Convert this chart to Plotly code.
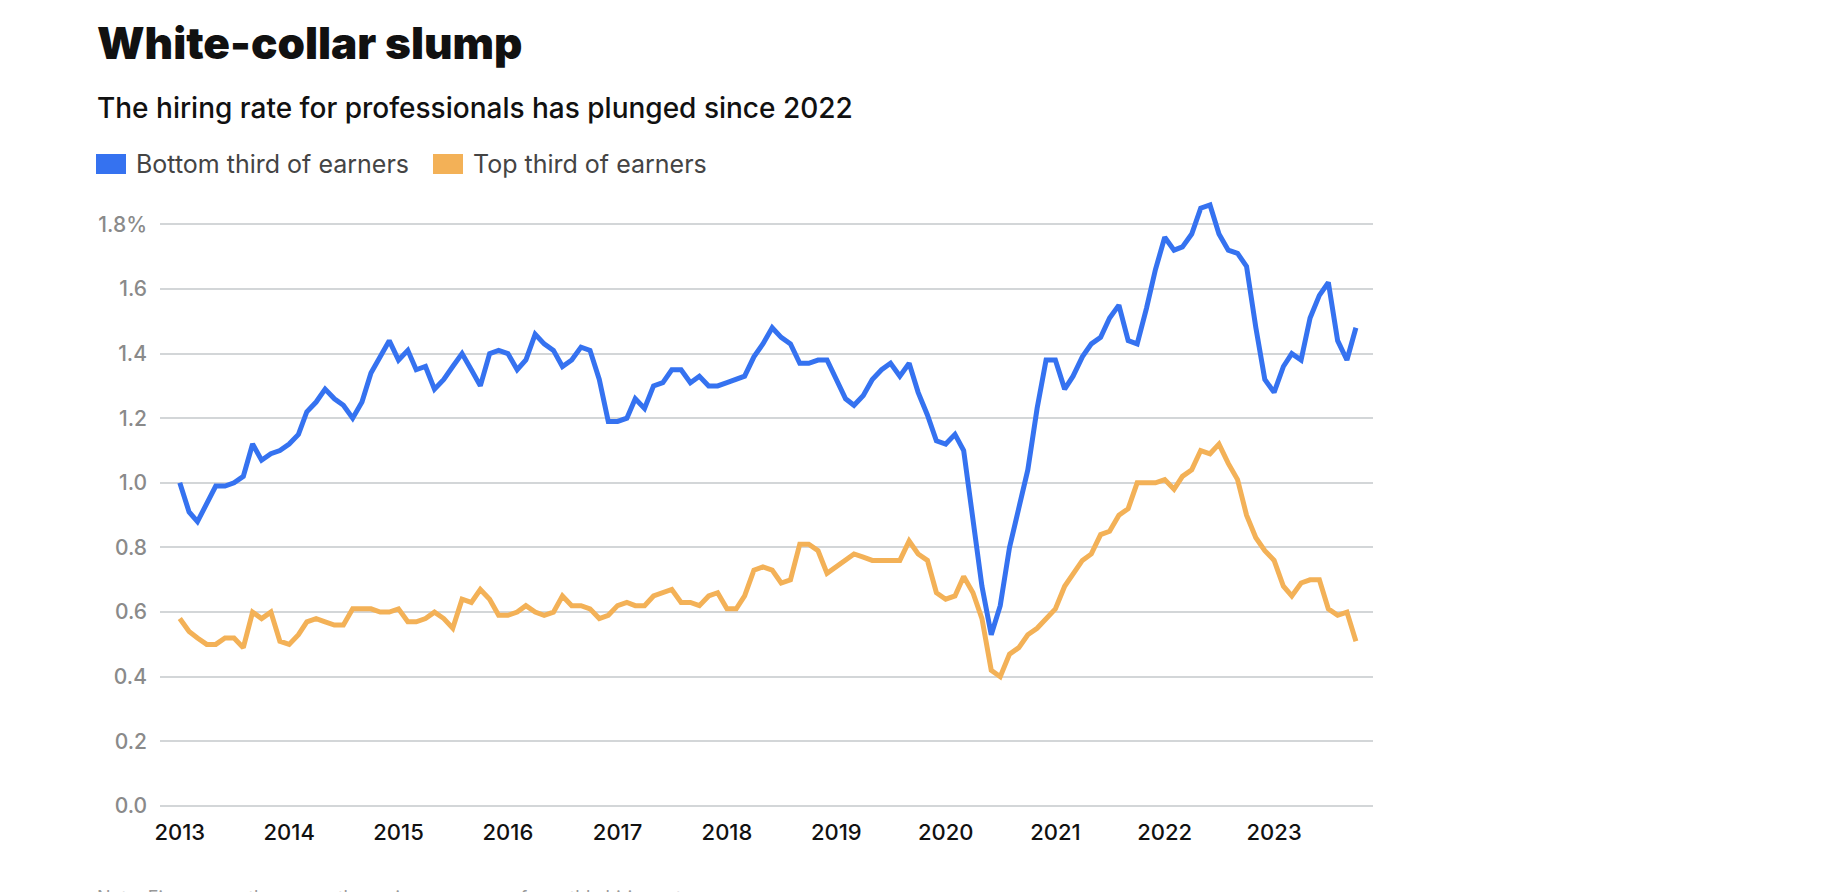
import pandas as pd
import plotly.graph_objects as go

# ---- data -------------------------------------------------------------
start_month = "2013-01-01"
n_months = 130  # Jan 2013 .. Oct 2023

bottom_third = [
    1.00, 0.91, 0.88, 0.94, 0.99, 0.99, 1.00, 1.02, 1.12, 1.07, 1.09, 1.10,
    1.12, 1.15, 1.22, 1.25, 1.29, 1.26, 1.24, 1.20, 1.25, 1.34, 1.39, 1.44,
    1.38, 1.41, 1.35, 1.36, 1.29, 1.32, 1.36, 1.40, 1.35, 1.30, 1.40, 1.41,
    1.40, 1.35, 1.38, 1.46, 1.43, 1.41, 1.36, 1.38, 1.42, 1.41, 1.32, 1.19,
    1.19, 1.20, 1.26, 1.23, 1.30, 1.31, 1.35, 1.35, 1.31, 1.33, 1.30, 1.30,
    1.31, 1.32, 1.33, 1.39, 1.43, 1.48, 1.45, 1.43, 1.37, 1.37, 1.38, 1.38,
    1.32, 1.26, 1.24, 1.27, 1.32, 1.35, 1.37, 1.33, 1.37, 1.28, 1.21, 1.13,
    1.12, 1.15, 1.10, 0.89, 0.68, 0.53, 0.62, 0.80, 0.92, 1.04, 1.23, 1.38,
    1.38, 1.29, 1.33, 1.39, 1.43, 1.45, 1.51, 1.55, 1.44, 1.43, 1.54, 1.66,
    1.76, 1.72, 1.73, 1.77, 1.85, 1.86, 1.77, 1.72, 1.71, 1.67, 1.48, 1.32,
    1.28, 1.36, 1.40, 1.38, 1.51, 1.58, 1.62, 1.44, 1.38, 1.48,
]

top_third = [
    0.58, 0.54, 0.52, 0.50, 0.50, 0.52, 0.52, 0.49, 0.60, 0.58, 0.60, 0.51,
    0.50, 0.53, 0.57, 0.58, 0.57, 0.56, 0.56, 0.61, 0.61, 0.61, 0.60, 0.60,
    0.61, 0.57, 0.57, 0.58, 0.60, 0.58, 0.55, 0.64, 0.63, 0.67, 0.64, 0.59,
    0.59, 0.60, 0.62, 0.60, 0.59, 0.60, 0.65, 0.62, 0.62, 0.61, 0.58, 0.59,
    0.62, 0.63, 0.62, 0.62, 0.65, 0.66, 0.67, 0.63, 0.63, 0.62, 0.65, 0.66,
    0.61, 0.61, 0.65, 0.73, 0.74, 0.73, 0.69, 0.70, 0.81, 0.81, 0.79, 0.72,
    0.74, 0.76, 0.78, 0.77, 0.76, 0.76, 0.76, 0.76, 0.82, 0.78, 0.76, 0.66,
    0.64, 0.65, 0.71, 0.66, 0.58, 0.42, 0.40, 0.47, 0.49, 0.53, 0.55, 0.58,
    0.61, 0.68, 0.72, 0.76, 0.78, 0.84, 0.85, 0.90, 0.92, 1.00, 1.00, 1.00,
    1.01, 0.98, 1.02, 1.04, 1.10, 1.09, 1.12, 1.06, 1.01, 0.90, 0.83, 0.79,
    0.76, 0.68, 0.65, 0.69, 0.70, 0.70, 0.61, 0.59, 0.60, 0.51,
]

series_names = ["Bottom third of earners", "Top third of earners"]
series_colors = ["#3572F0", "#F3B157"]

y_tickvals = [0.0, 0.2, 0.4, 0.6, 0.8, 1.0, 1.2, 1.4, 1.6, 1.8]
y_ticktext = ["0.0", "0.2", "0.4", "0.6", "0.8", "1.0", "1.2", "1.4", "1.6", "1.8%"]
x_tickvals = [f"{y}-01-01" for y in range(2013, 2024)]
x_ticktext = [str(y) for y in range(2013, 2024)]

title_text = "White-collar slump"
subtitle_text = "The hiring rate for professionals has plunged since 2022"
note_text = "Note: Figures are three-month moving averages of monthly hiring rates"

months = pd.date_range(start_month, periods=n_months, freq="MS")

# ---- figure -----------------------------------------------------------
W, H = 1824, 892
ML, MR, MT, MB = 152, 459, 184, 94
PW, PH = W - ML - MR, H - MT - MB


def px_x(x):
    return (x - ML) / PW


def px_y(y):
    return (H - MB - y) / PH


fig = go.Figure()
for vals, name, col in zip([bottom_third, top_third], series_names, series_colors):
    fig.add_trace(go.Scatter(
        x=months, y=vals, mode="lines", name=name,
        line=dict(color=col, width=5), showlegend=False,
        hovertemplate="%{x|%b %Y}: %{y:.2f}%<extra>" + name + "</extra>",
    ))

font_main = "Inter, Roboto, sans-serif"

annotations = [
    dict(text=title_text, x=px_x(87), y=px_y(35), xref="paper", yref="paper",
         xanchor="left", yanchor="middle", showarrow=False,
         font=dict(family=font_main, size=44, color="#111111", weight=900)),
    dict(text=subtitle_text, x=px_x(87), y=px_y(100), xref="paper", yref="paper",
         xanchor="left", yanchor="middle", showarrow=False,
         font=dict(family=font_main, size=28, color="#111111", weight=500)),
    dict(text=series_names[0], x=px_x(126), y=px_y(156), xref="paper", yref="paper",
         xanchor="left", yanchor="middle", showarrow=False,
         font=dict(family=font_main, size=25, color="#444444")),
    dict(text=series_names[1], x=px_x(463), y=px_y(156), xref="paper", yref="paper",
         xanchor="left", yanchor="middle", showarrow=False,
         font=dict(family=font_main, size=25, color="#444444")),
    dict(text=note_text, x=px_x(88), y=px_y(878), xref="paper", yref="paper",
         xanchor="left", yanchor="top", showarrow=False, borderpad=0,
         font=dict(family=font_main, size=18, color="#999999")),
]

shapes = [
    dict(type="rect", xref="paper", yref="paper", x0=px_x(88), x1=px_x(118),
         y0=px_y(166), y1=px_y(146), fillcolor=series_colors[0], line=dict(width=0)),
    dict(type="rect", xref="paper", yref="paper", x0=px_x(425), x1=px_x(455),
         y0=px_y(166), y1=px_y(146), fillcolor=series_colors[1], line=dict(width=0)),
]

fig.update_layout(
    width=W, height=H,
    margin=dict(l=ML, r=MR, t=MT, b=MB),
    paper_bgcolor="white", plot_bgcolor="white",
    annotations=annotations, shapes=shapes,
    font=dict(family=font_main),
    xaxis=dict(
        type="date", range=["2012-10-27", "2023-11-27"],
        tickvals=x_tickvals, ticktext=x_ticktext,
        showgrid=False, showline=False, zeroline=False,
        ticks="", ticklabelstandoff=11,
        tickfont=dict(family=font_main, size=22, color="#111111", weight=500),
    ),
    yaxis=dict(
        range=[0, 1.9], tickvals=y_tickvals, ticktext=y_ticktext,
        showgrid=True, gridcolor="#D3D6D8", gridwidth=1.5,
        zeroline=True, zerolinecolor="#D3D6D8", zerolinewidth=1.5,
        showline=False, ticks="", ticklabelstandoff=12,
        tickfont=dict(family=font_main, size=21, color="#8A8A8A", weight=500),
    ),
    hovermode="closest",
)

fig.write_html("out.html")
